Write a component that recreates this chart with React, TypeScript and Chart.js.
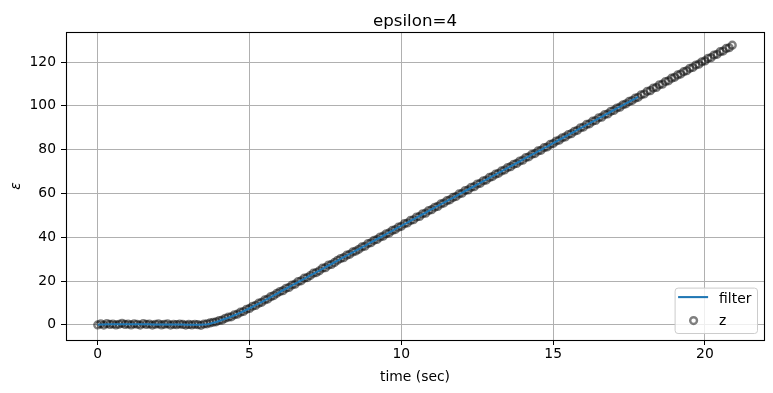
import React, { useEffect, useRef } from "react";
import { Chart, registerables } from "chart.js";

Chart.register(...registerables);

const TITLE = "epsilon=4";
const X_LABEL = "time (sec)";
const Y_LABEL = "ε";
const LEGEND_LABELS = ["filter", "z"];
const X_TICKS = [0, 5, 10, 15, 20];
const Y_TICKS = [0, 20, 40, 60, 80, 100, 120];

const TIME = [
  0, 0.1, 0.2, 0.3, 0.4, 0.5, 0.6, 0.7, 0.8, 0.9,
  1, 1.1, 1.2, 1.3, 1.4, 1.5, 1.6, 1.7, 1.8, 1.9,
  2, 2.1, 2.2, 2.3, 2.4, 2.5, 2.6, 2.7, 2.8, 2.9,
  3, 3.1, 3.2, 3.3, 3.4, 3.5, 3.6, 3.7, 3.8, 3.9,
  4, 4.1, 4.2, 4.3, 4.4, 4.5, 4.6, 4.7, 4.8, 4.9,
  5, 5.1, 5.2, 5.3, 5.4, 5.5, 5.6, 5.7, 5.8, 5.9,
  6, 6.1, 6.2, 6.3, 6.4, 6.5, 6.6, 6.7, 6.8, 6.9,
  7, 7.1, 7.2, 7.3, 7.4, 7.5, 7.6, 7.7, 7.8, 7.9,
  8, 8.1, 8.2, 8.3, 8.4, 8.5, 8.6, 8.7, 8.8, 8.9,
  9, 9.1, 9.2, 9.3, 9.4, 9.5, 9.6, 9.7, 9.8, 9.9,
  10, 10.1, 10.2, 10.3, 10.4, 10.5, 10.6, 10.7, 10.8, 10.9,
  11, 11.1, 11.2, 11.3, 11.4, 11.5, 11.6, 11.7, 11.8, 11.9,
  12, 12.1, 12.2, 12.3, 12.4, 12.5, 12.6, 12.7, 12.8, 12.9,
  13, 13.1, 13.2, 13.3, 13.4, 13.5, 13.6, 13.7, 13.8, 13.9,
  14, 14.1, 14.2, 14.3, 14.4, 14.5, 14.6, 14.7, 14.8, 14.9,
  15, 15.1, 15.2, 15.3, 15.4, 15.5, 15.6, 15.7, 15.8, 15.9,
  16, 16.1, 16.2, 16.3, 16.4, 16.5, 16.6, 16.7, 16.8, 16.9,
  17, 17.1, 17.2, 17.3, 17.4, 17.5, 17.6, 17.7, 17.8, 17.9,
  18, 18.1, 18.2, 18.3, 18.4, 18.5, 18.6, 18.7, 18.8, 18.9,
  19, 19.1, 19.2, 19.3, 19.4, 19.5, 19.6, 19.7, 19.8, 19.9,
  20, 20.1, 20.2, 20.3, 20.4, 20.5, 20.6, 20.7, 20.8, 20.9,
];

const Z_VALUES = [
  0.0, 0.5, -0.1, 0.6, 0.2, 0.4, 0.0, 0.3, 0.7, 0.2,
  0.4, 0.0, 0.5, 0.3, -0.1, 0.6, 0.2, 0.4, -0.1, 0.3,
  0.5, 0.0, 0.3, 0.5, -0.1, 0.3, 0.1, 0.4, 0.2, -0.1,
  0.2, 0.0, 0.3, 0.1, -0.2, 0.4, 0.5, 0.9, 1.2, 1.4,
  2.0, 2.2, 3.0, 3.5, 3.7, 4.6, 4.9, 5.8, 6.1, 7.1,
  7.5, 8.5, 8.9, 9.9, 10.3, 11.4, 11.8, 12.9, 13.4, 14.4,
  15.2, 15.6, 16.7, 17.1, 18.2, 18.6, 19.8, 20.1, 21.3, 21.6,
  22.5, 23.6, 23.9, 24.7, 25.9, 26.1, 27.3, 27.6, 28.5, 29.5,
  30.3, 30.7, 31.8, 32.2, 33.3, 33.7, 34.5, 35.6, 35.9, 37.1,
  37.5, 38.6, 39.0, 40.1, 40.5, 41.6, 42.0, 43.1, 43.5, 44.6,
  45.0, 46.2, 46.5, 47.7, 48.0, 49.2, 49.5, 50.7, 51.0, 52.2,
  52.6, 53.7, 54.1, 55.2, 55.6, 56.7, 57.1, 58.2, 58.6, 59.8,
  60.1, 61.3, 61.6, 62.8, 63.1, 64.3, 64.6, 65.8, 66.1, 67.3,
  67.7, 68.8, 69.2, 70.3, 70.7, 71.8, 72.2, 73.3, 73.7, 74.8,
  75.2, 76.4, 76.7, 77.9, 78.2, 79.4, 79.7, 80.9, 81.2, 82.4,
  82.8, 83.9, 84.3, 85.4, 85.8, 86.9, 87.3, 88.4, 88.8, 90.0,
  90.3, 91.5, 91.8, 93.0, 93.3, 94.5, 94.8, 96.0, 96.3, 97.5,
  97.9, 99.0, 99.4, 100.5, 100.9, 102.0, 102.4, 103.5, 103.9, 105.0,
  105.4, 106.6, 106.9, 108.1, 108.4, 109.6, 109.9, 111.1, 111.4, 112.6,
  113.0, 114.1, 114.5, 115.6, 116.0, 117.1, 117.5, 118.6, 119.0, 120.1,
  120.5, 121.7, 122.0, 123.2, 123.5, 124.7, 125.0, 126.2, 126.5, 127.7,
];

const FILTER_VALUES = [
  0.1, 0.2, 0.2, 0.3, 0.3, 0.3, 0.3, 0.3, 0.3, 0.3,
  0.3, 0.3, 0.3, 0.3, 0.3, 0.3, 0.3, 0.3, 0.2, 0.2,
  0.2, 0.2, 0.2, 0.2, 0.2, 0.2, 0.2, 0.2, 0.2, 0.1,
  0.1, 0.1, 0.1, 0.1, 0.1, 0.2, 0.3, 0.5, 1.0, 1.3,
  1.8, 2.3, 2.8, 3.3, 3.8, 4.4, 5.0, 5.6, 6.2, 6.9,
  7.6, 8.3, 9.0, 9.7, 10.4, 11.2, 11.9, 12.7, 13.5, 14.2,
  15.0, 15.8, 16.5, 17.3, 18.0, 18.8, 19.5, 20.3, 21.0, 21.8,
  22.6, 23.3, 24.1, 24.8, 25.6, 26.3, 27.1, 27.8, 28.6, 29.3,
  30.1, 30.9, 31.6, 32.4, 33.1, 33.9, 34.6, 35.4, 36.1, 36.9,
  37.7, 38.4, 39.2, 39.9, 40.7, 41.4, 42.2, 42.9, 43.7, 44.5,
  45.2, 46.0, 46.7, 47.5, 48.2, 49.0, 49.7, 50.5, 51.2, 52.0,
  52.8, 53.5, 54.3, 55.0, 55.8, 56.5, 57.3, 58.0, 58.8, 59.6,
  60.3, 61.1, 61.8, 62.6, 63.3, 64.1, 64.8, 65.6, 66.3, 67.1,
  67.9, 68.6, 69.4, 70.1, 70.9, 71.6, 72.4, 73.1, 73.9, 74.6,
  75.4, 76.2, 76.9, 77.7, 78.4, 79.2, 79.9, 80.7, 81.4, 82.2,
  83.0, 83.7, 84.5, 85.2, 86.0, 86.7, 87.5, 88.2, 89.0, 89.8,
  90.5, 91.3, 92.0, 92.8, 93.5, 94.3, 95.0, 95.8, 96.5, 97.3,
  98.1, 98.8, 99.6, 100.3, 101.1, 101.8, 102.6, 103.3, 104.1,
];

const FONT = "'DejaVu Sans', sans-serif";
const BLUE = "#1f77b4";
const RING = "rgba(0,0,0,0.5)";
const RING_R = 3.4;
const RING_W = 2.4;

const decorPlugin = {
  id: "decor",
  afterDraw(chart: any) {
    const { ctx, chartArea: a } = chart;
    ctx.save();
    ctx.strokeStyle = "#000";
    ctx.lineWidth = 1.1;
    ctx.strokeRect(Math.round(a.left) + 0.5, Math.round(a.top) + 0.5, Math.round(a.right - a.left), Math.round(a.bottom - a.top));

    const cx = (a.left + a.right) / 2;
    ctx.fillStyle = "#000";
    ctx.textAlign = "center";
    ctx.textBaseline = "alphabetic";
    ctx.font = `16.67px ${FONT}`;
    ctx.fillText(TITLE, cx, 26);

    ctx.font = `13.89px ${FONT}`;
    ctx.fillText(X_LABEL, cx, 381);

    ctx.save();
    ctx.translate(20, (a.top + a.bottom) / 2);
    ctx.rotate(-Math.PI / 2);
    ctx.font = `italic 13.89px ${FONT}`;
    ctx.fillText(Y_LABEL, 0, 0);
    ctx.restore();

    const w = 82.4;
    const h = 45.4;
    const bx = a.right - 7 - w;
    const by = a.bottom - 7 - h;
    ctx.beginPath();
    if ((ctx as any).roundRect) (ctx as any).roundRect(bx + 0.5, by + 0.5, w, h, 3);
    else ctx.rect(bx + 0.5, by + 0.5, w, h);
    ctx.fillStyle = "rgba(255,255,255,0.8)";
    ctx.fill();
    ctx.strokeStyle = "#cccccc";
    ctx.lineWidth = 1;
    ctx.stroke();

    const lineY = by + 9.5;
    ctx.beginPath();
    ctx.moveTo(bx + 3.5, lineY);
    ctx.lineTo(bx + 33.5, lineY);
    ctx.strokeStyle = BLUE;
    ctx.lineWidth = 2.08;
    ctx.stroke();

    ctx.beginPath();
    ctx.arc(bx + 19, by + 33, RING_R, 0, Math.PI * 2);
    ctx.strokeStyle = RING;
    ctx.lineWidth = RING_W;
    ctx.stroke();

    ctx.fillStyle = "#000";
    ctx.textAlign = "left";
    ctx.font = `13.89px ${FONT}`;
    ctx.fillText(LEGEND_LABELS[0], bx + 44.5, by + 15.5);
    ctx.fillText(LEGEND_LABELS[1], bx + 44.5, by + 37.5);
    ctx.restore();
  },
};

export default function App() {
  const ref = useRef<HTMLCanvasElement | null>(null);

  useEffect(() => {
    if (!ref.current) return;
    const zData = TIME.map((t, i) => ({ x: t, y: Z_VALUES[i] }));
    const filterData = FILTER_VALUES.map((v, i) => ({ x: TIME[i], y: v }));

    const tickFont = { family: FONT, size: 13.89 };
    const chart = new Chart(ref.current, {
      type: "scatter",
      data: {
        datasets: [
          {
            label: LEGEND_LABELS[0],
            data: filterData,
            showLine: true,
            borderColor: BLUE,
            borderWidth: 2.08,
            pointRadius: 0,
            pointHoverRadius: 0,
            order: 0,
          } as any,
          {
            label: LEGEND_LABELS[1],
            data: zData,
            pointRadius: RING_R,
            pointBorderWidth: RING_W,
            pointBorderColor: RING,
            pointBackgroundColor: "rgba(0,0,0,0)",
            borderColor: RING,
            backgroundColor: "rgba(0,0,0,0)",
            order: 1,
          } as any,
        ],
      },
      options: {
        animation: false,
        responsive: false,
        events: [],
        layout: { padding: { left: 0, right: 9, top: 32, bottom: 0 } },
        plugins: {
          legend: { display: false },
          title: { display: false },
          tooltip: { enabled: false },
        },
        scales: {
          x: {
            type: "linear",
            min: -1.045,
            max: 21.945,
            afterBuildTicks: (s: any) => {
              s.ticks = X_TICKS.map((v) => ({ value: v }));
            },
            afterFit: (s: any) => {
              s.height = 53;
            },
            grid: { color: "#b0b0b0", lineWidth: 1, tickColor: "#000", tickLength: 5, tickWidth: 1 },
            border: { display: false },
            ticks: { color: "#000", font: tickFont, padding: 1, maxRotation: 0, autoSkip: false },
          },
          y: {
            type: "linear",
            min: -6.9,
            max: 133.7,
            afterBuildTicks: (s: any) => {
              s.ticks = Y_TICKS.map((v) => ({ value: v }));
            },
            afterFit: (s: any) => {
              s.width = 66;
            },
            grid: { color: "#b0b0b0", lineWidth: 1, tickColor: "#000", tickLength: 5, tickWidth: 1 },
            border: { display: false },
            ticks: { color: "#000", font: tickFont, padding: 5, autoSkip: false },
          },
        },
      } as any,
      plugins: [decorPlugin],
    });
    return () => chart.destroy();
  }, []);

  return (
    <div style={{ position: "absolute", left: 0, top: 0, width: 773, height: 393, background: "#fff" }}>
      <canvas ref={ref} width={773} height={393} style={{ width: 773, height: 393, display: "block" }} />
    </div>
  );
}
